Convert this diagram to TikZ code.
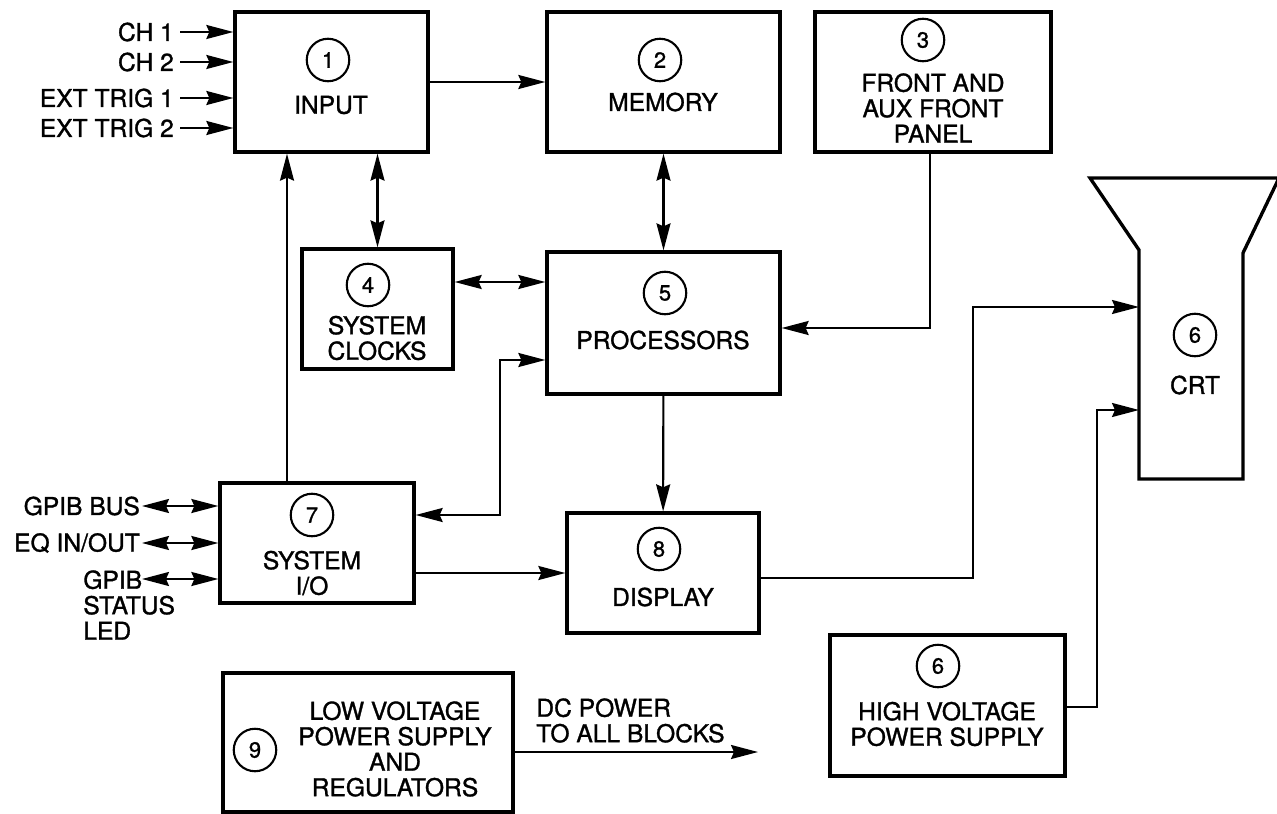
\documentclass[tikz,border=0pt]{standalone}
\usepackage{fontspec}
\setmainfont{TeX Gyre Heros}[FakeBold=1.2]
\usepackage{tikz}
\usetikzlibrary{arrows.meta}

\begin{document}
\begin{tikzpicture}[
    x=0.02cm, y=-0.02cm,
    font=\fontsize{14}{14.5}\selectfont,
    block/.style={rectangle, draw, line width=1.9pt, inner sep=0pt},
    num/.style={circle, draw, line width=1.2pt, minimum size=0.85cm, inner sep=0pt, font=\fontsize{12.5}{13}\selectfont},
    txt/.style={align=center, inner sep=0pt},
    arrow/.style={-{Stealth[length=5.4mm, width=2.8mm, inset=0.6mm]}, line width=1.2pt},
    dbl/.style={{Stealth[length=5.4mm, width=2.8mm, inset=0.6mm]}-{Stealth[length=5.4mm, width=2.8mm, inset=0.6mm]}, line width=1.2pt}
]
    \useasboundingbox (0,0) rectangle (1277,814);

    % Top row
    \node[block, minimum width=3.86cm, minimum height=2.8cm] (input) at (331.5,82) {};
    \node[num] (c1) at (328,60) {1};
    \node[txt] (t1) at (331,105) {INPUT};

    \node[block, minimum width=4.66cm, minimum height=2.8cm] (memory) at (663.5,82) {};
    \node[num] (c2) at (660,60) {2};
    \node[txt] (t2) at (663,102) {MEMORY};

    \node[block, minimum width=4.72cm, minimum height=2.8cm] (front) at (933,82) {};
    \node[num] (c3) at (923,40) {3};
    \node[txt] (t3) at (933,108) {FRONT AND\\AUX FRONT\\PANEL};

    % Middle row
    \node[block, minimum width=3.02cm, minimum height=2.4cm] (clocks) at (377.5,309) {};
    \node[num] (c4) at (368,285) {4};
    \node[txt] (t4) at (377,338) {SYSTEM\\CLOCKS};

    \node[block, minimum width=4.66cm, minimum height=2.84cm] (proc) at (663.5,323) {};
    \node[num] (c5) at (665,293) {5};
    \node[txt] (t5) at (663,340) {PROCESSORS};

    % CRT
    \draw[line width=1.9pt] (1090,178) -- (1279,178) -- (1243,253) -- (1243,479) -- (1139,479) -- (1139,250) -- cycle;
    \coordinate (crtL) at (1139,250);
    \node[num] (c6crt) at (1195,335) {6};
    \node[txt] (tcrt) at (1195,385) {CRT};

    % Lower row
    \node[block, minimum width=3.88cm, minimum height=2.4cm] (sysio) at (317,543) {};
    \node[num] (c7) at (312,515) {7};
    \node[txt] (t7) at (312,573) {SYSTEM\\I/O};

    \node[block, minimum width=3.84cm, minimum height=2.4cm] (display) at (663,573) {};
    \node[num] (c8) at (659,549) {8};
    \node[txt] (t8) at (663,597) {DISPLAY};

    % Power supplies
    \node[block, minimum width=5.8cm, minimum height=2.78cm] (lvps) at (368,742.5) {};
    \node[num] (c9) at (255,750) {9};
    \node[txt] (t9) at (395,749) {LOW VOLTAGE\\POWER SUPPLY\\AND\\REGULATORS};

    \node[block, minimum width=4.7cm, minimum height=2.82cm] (hvps) at (947.5,705.5) {};
    \node[num] (c6) at (938,666) {6};
    \node[txt] (t6) at (947,724) {HIGH VOLTAGE\\POWER SUPPLY};

    % Inputs
    \node[anchor=east] (ch1) at (180,32) {CH 1};
    \node[anchor=east] (ch2) at (180,62) {CH 2};
    \node[anchor=east] (trig1) at (180,98) {EXT TRIG 1};
    \node[anchor=east] (trig2) at (180,128) {EXT TRIG 2};
    \node[anchor=east, inner sep=1pt] (gpib) at (142,506) {GPIB BUS};
    \node[anchor=east, inner sep=1pt] (eq) at (142,543) {EQ IN/OUT};
    \node[anchor=north west, align=left, inner sep=0pt] (led) at (83,570) {GPIB\\STATUS\\LED};
    \coordinate (ledend) at (142,579);
    \node[anchor=north west, align=left, inner sep=0pt] (dc) at (536,698) {DC POWER\\TO ALL BLOCKS};

    % Bend points
    \coordinate (ioup) at (287,300);
    \coordinate (ckline) at (500,282);
    \coordinate (iotop) at (500,360);
    \coordinate (iobot) at (500,515);
    \coordinate (fpdown) at (930,328);
    \coordinate (dispup) at (973,578);
    \coordinate (crtin1) at (973,307);
    \coordinate (hvup) at (1097,707);
    \coordinate (crtin2) at (1097,410);
    \coordinate (dcend) at (758,752);

    % Arrows
    \draw[arrow] (ch1.east) -- (ch1.east -| input.west);
    \draw[arrow] (ch2.east) -- (ch2.east -| input.west);
    \draw[arrow] (trig1.east) -- (trig1.east -| input.west);
    \draw[arrow] (trig2.east) -- (trig2.east -| input.west);
    \draw[arrow] (input) -- (memory);
    \draw[dbl] (clocks.north) -- (clocks.north |- input.south);
    \draw[dbl] (memory) -- (proc);
    \draw[dbl] (ckline -| clocks.east) -- (ckline -| proc.west);
    \draw[arrow] (front.south -| fpdown) -- (fpdown) -- (fpdown -| proc.east);
    \draw[arrow] (ioup |- sysio.north) -- (ioup |- input.south);
    \draw[dbl] (iotop -| proc.west) -- (iotop) -- (iobot) -- (iobot -| sysio.east);
    \draw[arrow] (proc) -- (display);
    \draw[arrow] (sysio.east |- display) -- (display);
    \draw[dbl] (gpib.east) -- (gpib.east -| sysio.west);
    \draw[dbl] (eq.east) -- (eq.east -| sysio.west);
    \draw[dbl] (ledend) -- (ledend -| sysio.west);
    \draw[arrow] (dispup -| display.east) -- (dispup) -- (crtin1) -- (crtin1 -| crtL);
    \draw[arrow] (hvup -| hvps.east) -- (hvup) -- (crtin2) -- (crtin2 -| crtL);
    \draw[arrow] (dcend -| lvps.east) -- (dcend);

\end{tikzpicture}
\end{document}
